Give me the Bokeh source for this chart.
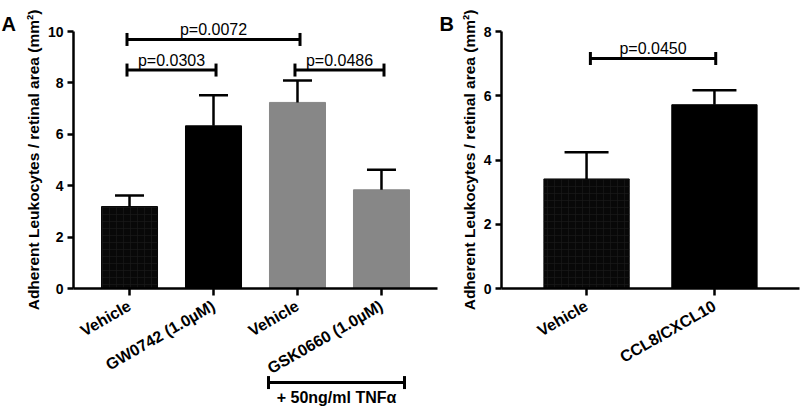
import math
from bokeh.plotting import figure
from bokeh.layouts import row
from bokeh.models import Range1d, FixedTicker, ColumnDataSource, Whisker, TeeHead
from bokeh.core.properties import value
from bokeh.embed import file_html
from bokeh.resources import INLINE

# ---------------- data ----------------
A_labels = ["Vehicle", "GW0742 (1.0µM)", "Vehicle", "GSK0660 (1.0µM)"]
A_means = [3.19, 6.33, 7.24, 3.84]
A_errs = [0.43, 1.19, 0.85, 0.78]
A_colors = ["#080808", "#000000", "#878787", "#878787"]
A_hatch = ["+", " ", " ", " "]
A_sig_from = [1, 1, 3]
A_sig_to = [2, 3, 4]
A_sig_y = [8.5, 9.69, 8.5]
A_sig_text = ["p=0.0303", "p=0.0072", "p=0.0486"]
A_group_text = "+ 50ng/ml TNFα"

B_labels = ["Vehicle", "CCL8/CXCL10"]
B_means = [3.41, 5.72]
B_errs = [0.83, 0.45]
B_colors = ["#080808", "#000000"]
B_hatch = ["+", " "]
B_sig_from = [1]
B_sig_to = [2]
B_sig_y = [7.16]
B_sig_text = ["p=0.0450"]

Y_TITLE = "Adherent Leukocytes / retinal area (mm²)"
FONT = "Liberation Sans"
H = 406
TOP = 31
FRAME_H = 257
TEE_PX = 6.5


def bracket(p, lo, hi, y, ymax, width=3):
    d = TEE_PX * ymax / FRAME_H
    src = ColumnDataSource(dict(lo=lo, hi=hi, y=y,
                                yd=[v - d for v in y], yu=[v + d for v in y]))
    p.segment(x0="lo", x1="hi", y0="y", y1="y", source=src, line_width=width,
              line_color="black", level="overlay")
    p.segment(x0="lo", x1="lo", y0="yd", y1="yu", source=src, line_width=width,
              line_color="black", level="overlay")
    p.segment(x0="hi", x1="hi", y0="yd", y1="yu", source=src, line_width=width,
              line_color="black", level="overlay")


def panel(letter, labels, means, errs, colors, hatch, sfrom, sto, sy, stext,
          ymax, width, left, pad, cap, ticks_y, lo_off, hi_off):
    n = len(labels)
    xs = list(range(1, n + 1))
    p = figure(width=width, height=H, output_backend="svg", toolbar_location=None,
               x_range=Range1d(1 - pad, n + pad), y_range=Range1d(0, ymax),
               min_border_left=left, min_border_right=1, min_border_top=TOP,
               min_border_bottom=H - TOP - FRAME_H)
    p.outline_line_color = None
    p.grid.visible = False
    p.background_fill_color = "white"

    src = ColumnDataSource(dict(x=xs, top=means, upper=[m + e for m, e in zip(means, errs)],
                                color=colors, hatch=hatch))
    p.vbar(x="x", top="top", width=0.667, source=src, fill_color="color",
           line_color="color", hatch_pattern="hatch", hatch_color="#1a1a1a",
           hatch_scale=7, hatch_weight=0.7)
    p.add_layout(Whisker(source=src, base="x", lower="top", upper="upper",
                         dimension="height", line_width=2.5, line_color="black",
                         lower_head=None,
                         upper_head=TeeHead(size=cap, line_width=2.5, line_color="black"),
                         level="overlay"))

    # significance brackets
    lo = [a + lo_off for a in sfrom]
    hi = [b + hi_off for b in sto]
    bracket(p, lo, hi, sy, ymax)
    tsrc = ColumnDataSource(dict(mid=[(a + b) / 2 for a, b in zip(lo, hi)], y=sy, t=stext))
    p.text(x="mid", y="y", text="t", source=tsrc, text_align="center",
           text_baseline="alphabetic", y_offset=-10, text_font=value(FONT),
           text_font_size="16px", text_color="black", level="overlay")

    # panel letter
    p.text(x=[1 - pad], y=[ymax], text=[letter], x_offset=-left + 1, y_offset=-8,
           text_align="left", text_baseline="alphabetic", text_font=value(FONT),
           text_font_style="bold", text_font_size="20px", text_color="black",
           level="overlay")

    # axes
    for ax in (p.xaxis[0], p.yaxis[0]):
        ax.axis_line_width = 2.5
        ax.axis_line_color = "black"
        ax.major_tick_line_width = 2.5
        ax.major_tick_line_color = "black"
        ax.major_tick_in = 0
        ax.minor_tick_line_color = None
        ax.major_label_text_font = FONT
        ax.major_label_text_font_style = "bold"
        ax.major_label_text_color = "black"
    p.yaxis.ticker = FixedTicker(ticks=ticks_y)
    p.yaxis.major_tick_out = 6
    p.yaxis.major_label_text_font_size = "14px"
    p.yaxis.major_label_standoff = 4
    p.yaxis.axis_label = Y_TITLE
    p.yaxis.axis_label_text_font = FONT
    p.yaxis.axis_label_text_font_style = "bold"
    p.yaxis.axis_label_text_font_size = "15.5px"
    p.yaxis.axis_label_text_color = "black"
    p.yaxis.axis_label_standoff = 3

    p.xaxis.ticker = FixedTicker(ticks=xs)
    p.xaxis.major_label_overrides = {x: lab for x, lab in zip(xs, labels)}
    p.xaxis.major_tick_out = 7
    p.xaxis.major_label_text_font_size = "16px"
    p.xaxis.major_label_orientation = math.pi / 6
    p.xaxis.major_label_standoff = 9
    return p


pA = panel("A", A_labels, A_means, A_errs, A_colors, A_hatch, A_sig_from, A_sig_to,
           A_sig_y, A_sig_text, 10, 438, 73, 0.667, 29, [0, 2, 4, 6, 8, 10], -0.03, 0.03)
pB = panel("B", B_labels, B_means, B_errs, B_colors, B_hatch, B_sig_from, B_sig_to,
           B_sig_y, B_sig_text, 8, 362, 63, 0.665, 44, [0, 2, 4, 6, 8], 0.03, 0.01)

# group bracket under bars 3-4 of panel A (treatment with TNF-alpha)
g_lo, g_hi, g_y = 2.655, 4.274, -3.66
bracket(pA, [g_lo], [g_hi], [g_y], 10)
pA.text(x=[(g_lo + g_hi) / 2], y=[g_y], text=[A_group_text], text_align="center",
        text_baseline="alphabetic", y_offset=15, text_font=value(FONT),
        text_font_style="bold", text_font_size="16px", text_color="black",
        level="overlay")

layout = row(pA, pB)
open("out.html", "w").write(file_html(layout, INLINE))
